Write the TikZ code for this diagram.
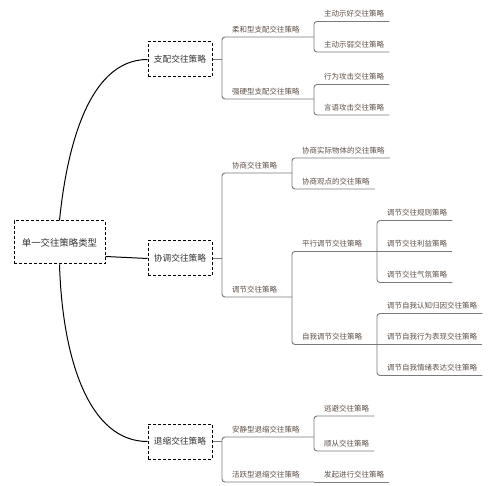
\documentclass[tikz,border=0pt]{standalone}
\usepackage{fontspec}
\setmainfont{Noto Sans CJK SC}
\usetikzlibrary{calc}
\definecolor{leafc}{HTML}{5E5048}
\definecolor{linec}{HTML}{7A7A7A}
\definecolor{boxt}{HTML}{333333}
\begin{document}
\begin{tikzpicture}[x=1pt,y=-1pt,
  lab/.style={anchor=south west, inner xsep=5pt, inner ysep=4.6pt, text height=6pt, text depth=0pt, font=\fontsize{7.5}{8}\selectfont, text=leafc},
  br/.style={draw=linec, line width=0.9pt, rounded corners=3pt},
  topbox/.style={draw=black, dash pattern=on 3pt off 2pt, line width=1pt, minimum width=64pt, minimum height=35pt, inner sep=0pt, font=\fontsize{8.7}{9}\selectfont, text=boxt},
  rootbox/.style={topbox, minimum width=91pt, minimum height=43pt, font=\fontsize{9.4}{10}\selectfont},
  curve/.style={draw=black, line width=1pt}]
\useasboundingbox (0,0) rectangle (498,486);

% main boxes
\node[rootbox] (root) at (59.5,242.5) {单一交往策略类型};
\node[topbox] (b1) at (180,59.5) {支配交往策略};
\node[topbox] (b2) at (180,258.5) {协调交往策略};
\node[topbox] (b3) at (180,441.5) {退缩交往策略};

\draw[curve] (root.north) .. controls +(6,-60) and +(-63,0) .. (b1.west);
\draw[curve] ([yshift=-14pt]root.east) -- (b2.west);
\draw[curve] (root.south) .. controls +(3,96) and +(-58,0) .. (b3.west);

% bracket points
\coordinate (k1) at (222,59.5);
\coordinate (k2) at (222,258.5);
\coordinate (k3) at (222,441.5);

% ---- 支配
\node[lab] (rh) at (227,37) {柔和型支配交往策略};
\coordinate (rhE) at (314,37);
\node[lab] (qy) at (227,99) {强硬型支配交往策略};
\coordinate (qyE) at (314,99);
\node[lab] (l1) at (319,21.5) {主动示好交往策略};
\node[lab] (l2) at (319,52) {主动示弱交往策略};
\node[lab] (l3) at (319,84.5) {行为攻击交往策略};
\node[lab] (l4) at (319,115) {言语攻击交往策略};

\draw[br] (b1.east) -- (k1);
\draw[br] (k1) |- (rhE);
\draw[br] (k1) |- (qyE);
\draw[br] (rhE) |- (l1.south east);
\draw[br] (rhE) |- (l2.south east);
\draw[br] (qyE) |- (l3.south east);
\draw[br] (qyE) |- (l4.south east);

% ---- 协调
\node[lab] (xs) at (227,173) {协商交往策略};
\coordinate (xsE) at (292,173);
\node[lab] (tj) at (227,297) {调节交往策略};
\coordinate (tjE) at (292,297);
\node[lab] (m1) at (297,158) {协商实际物体的交往策略};
\node[lab] (m2) at (297,189) {协商观点的交往策略};
\node[lab] (px) at (297,251.5) {平行调节交往策略};
\coordinate (pxE) at (377,251.5);
\node[lab] (zw) at (297,344.5) {自我调节交往策略};
\coordinate (zwE) at (377,344.5);
\node[lab] (n1) at (382,220.5) {调节交往规则策略};
\node[lab] (n2) at (382,251.5) {调节交往利益策略};
\node[lab] (n3) at (382,282.5) {调节交往气氛策略};
\node[lab] (n4) at (382,313.5) {调节自我认知归因交往策略};
\node[lab] (n5) at (382,344.5) {调节自我行为表现交往策略};
\node[lab] (n6) at (382,375.5) {调节自我情绪表达交往策略};

\draw[br] (b2.east) -- (k2);
\draw[br] (k2) |- (xsE);
\draw[br] (k2) |- (tjE);
\draw[br] (xsE) |- (m1.south east);
\draw[br] (xsE) |- (m2.south east);
\draw[br] (tjE) |- (pxE);
\draw[br] (tjE) |- (zwE);
\draw[br] (pxE) |- (n1.south east);
\draw[br] (pxE) -- (n2.south east);
\draw[br] (pxE) |- (n3.south east);
\draw[br] (zwE) |- (n4.south east);
\draw[br] (zwE) -- (n5.south east);
\draw[br] (zwE) |- (n6.south east);

% ---- 退缩
\node[lab] (aj) at (227,437) {安静型退缩交往策略};
\coordinate (ajE) at (314,437);
\node[lab] (hy) at (227,482) {活跃型退缩交往策略};
\coordinate (hyE) at (314,482);
\node[lab] (o1) at (319,416) {逃避交往策略};
\node[lab] (o2) at (319,451) {顺从交往策略};
\node[lab] (o3) at (319,482) {发起进行交往策略};

\draw[br] (b3.east) -- (k3);
\draw[br] (k3) |- (ajE);
\draw[br] (k3) |- (hyE);
\draw[br] (ajE) |- (o1.south east);
\draw[br] (ajE) |- (o2.south east);
\draw[br] (hyE) -- (o3.south east);
\end{tikzpicture}
\end{document}
